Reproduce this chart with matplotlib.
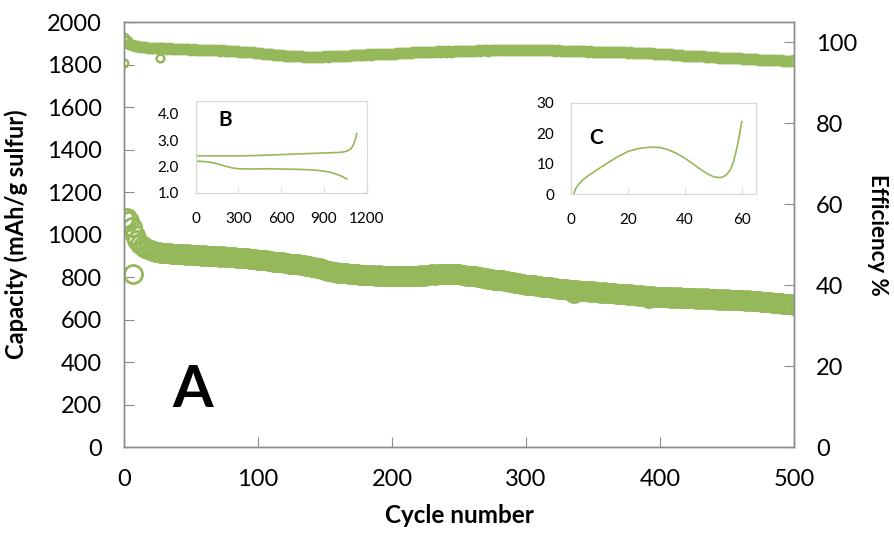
import matplotlib.pyplot as plt

plt.rcParams["font.family"] = ["Lato", "DejaVu Sans"]

GREEN = "#95b85a"
GREY = "#8c8c8c"

# main panel: cycles every 2 from 0 to 500
cycles = list(range(0, 501, 2))

capacity = [
    1080, 1078, 1062, 1035, 1000, 972, 955, 944, 936, 930,
    925, 922, 917, 917, 913, 914, 911, 912, 909, 910,
    908, 906, 909, 904, 907, 903, 905, 902, 905, 901,
    903, 900, 901, 901, 897, 900, 896, 897, 895, 894,
    893, 895, 890, 891, 890, 888, 888, 885, 886, 883,
    882, 882, 879, 879, 876, 876, 873, 873, 869, 870,
    867, 867, 863, 863, 859, 859, 855, 855, 851, 851,
    847, 846, 841, 841, 836, 835, 830, 829, 825, 824,
    821, 821, 817, 818, 814, 815, 812, 813, 810, 811,
    809, 810, 808, 809, 807, 808, 806, 807, 805, 807,
    804, 806, 805, 805, 804, 807, 803, 806, 805, 807,
    806, 809, 807, 811, 810, 813, 811, 814, 813, 815,
    814, 816, 813, 814, 812, 813, 810, 811, 807, 807,
    804, 804, 800, 800, 796, 796, 792, 792, 788, 788,
    784, 784, 780, 780, 776, 776, 772, 772, 768, 768,
    764, 764, 761, 761, 757, 758, 754, 754, 751, 751,
    748, 748, 745, 745, 742, 743, 739, 740, 724, 738,
    735, 736, 733, 734, 731, 732, 729, 730, 727, 728,
    725, 726, 723, 724, 721, 722, 719, 720, 717, 718,
    715, 716, 713, 714, 711, 712, 700, 710, 707, 708,
    705, 707, 704, 706, 703, 705, 702, 704, 701, 703,
    700, 702, 699, 701, 698, 700, 697, 699, 696, 698,
    695, 697, 694, 696, 693, 695, 692, 694, 691, 693,
    690, 691, 689, 690, 687, 688, 685, 686, 683, 684,
    681, 682, 679, 680, 677, 678, 675, 675, 672, 671,
    668,
]

efficiency = [
    101.0, 100.2, 99.6, 99.3, 99.1, 99.0, 98.9, 98.8, 98.8, 98.7,
    98.7, 98.6, 98.6, 98.5, 98.6, 98.5, 98.4, 98.5, 98.4, 98.4,
    98.4, 98.3, 98.4, 98.3, 98.3, 98.2, 98.3, 98.2, 98.2, 98.1,
    98.2, 98.1, 98.1, 98.0, 98.1, 98.0, 97.9, 98.0, 97.9, 97.9,
    97.8, 97.9, 97.8, 97.7, 97.7, 97.6, 97.6, 97.5, 97.5, 97.4,
    97.3, 97.3, 97.2, 97.1, 97.1, 97.0, 96.9, 96.9, 96.8, 96.8,
    96.7, 96.7, 96.6, 96.6, 96.5, 96.5, 96.5, 96.4, 96.4, 96.4,
    96.3, 96.4, 96.3, 96.4, 96.4, 96.5, 96.4, 96.5, 96.5, 96.6,
    96.6, 96.6, 96.7, 96.7, 96.7, 96.8, 96.8, 96.8, 96.9, 96.9,
    96.9, 97.0, 96.9, 97.0, 97.0, 97.1, 97.0, 97.1, 97.1, 97.2,
    97.2, 97.2, 97.3, 97.3, 97.3, 97.4, 97.4, 97.4, 97.5, 97.5,
    97.5, 97.6, 97.6, 97.6, 97.7, 97.7, 97.7, 97.8, 97.7, 97.8,
    97.7, 97.8, 97.7, 97.8, 97.8, 97.8, 97.9, 97.8, 97.9, 97.9,
    97.9, 97.9, 98.0, 97.9, 98.0, 98.0, 97.9, 98.0, 98.0, 98.0,
    98.0, 98.1, 98.0, 98.1, 98.0, 98.1, 98.1, 98.0, 98.1, 98.1,
    98.1, 98.1, 98.0, 98.1, 98.1, 98.0, 98.0, 98.1, 98.0, 98.0,
    98.0, 97.9, 98.0, 97.9, 97.9, 97.9, 97.9, 97.8, 97.9, 97.8,
    97.8, 97.8, 97.8, 97.7, 97.8, 97.7, 97.7, 97.7, 97.6, 97.7,
    97.6, 97.6, 97.6, 97.5, 97.6, 97.5, 97.5, 97.5, 97.4, 97.5,
    97.4, 97.4, 97.4, 97.3, 97.4, 97.3, 97.3, 97.3, 97.2, 97.2,
    97.2, 97.1, 97.1, 97.0, 97.0, 96.9, 96.9, 96.8, 96.8, 96.7,
    96.7, 96.7, 96.6, 96.6, 96.5, 96.5, 96.5, 96.4, 96.4, 96.3,
    96.3, 96.3, 96.2, 96.2, 96.2, 96.1, 96.1, 96.1, 96.0, 96.0,
    96.0, 95.9, 95.9, 95.9, 95.8, 95.8, 95.8, 95.7, 95.7, 95.7,
    95.6, 95.6, 95.6, 95.5, 95.5, 95.5, 95.4, 95.4, 95.4, 95.3,
    95.5,
]

# stray points
cap_out_cycles = [7]
cap_out_vals = [814]
eff_out_cycles = [0, 27]
eff_out_vals = [94.8, 96.2]

# inset B: voltage profile
b_chg_x = [0, 20, 100, 200, 300, 400, 500, 600, 700, 800, 900, 950, 1000,
           1040, 1070, 1090, 1105, 1115, 1125, 1130]
b_chg_y = [2.42, 2.40, 2.40, 2.40, 2.40, 2.41, 2.43, 2.45, 2.47, 2.49, 2.51,
           2.52, 2.53, 2.55, 2.60, 2.68, 2.80, 2.95, 3.12, 3.25]
b_dis_x = [0, 50, 100, 150, 200, 250, 300, 400, 500, 600, 700, 800, 850, 900,
           950, 1000, 1030, 1060]
b_dis_y = [2.20, 2.19, 2.16, 2.10, 2.02, 1.95, 1.91, 1.90, 1.91, 1.90, 1.89,
           1.87, 1.85, 1.82, 1.77, 1.68, 1.61, 1.52]

# inset C
c_x = [1, 1.5, 2.5, 4, 6, 8, 10, 13, 16, 20, 24, 28, 31, 34, 37, 40, 43, 46,
       48, 50, 52, 53, 54.5, 56, 57, 58, 59, 60]
c_y = [0, 1.5, 3, 4.5, 6, 7.2, 8.5, 10.3, 12, 14, 15, 15.4, 15.3, 14.6, 13.4,
       11.8, 9.8, 7.8, 6.6, 5.7, 5.4, 5.5, 6.2, 8, 10.3, 14, 18.5, 23.8]

fig = plt.figure(figsize=(8.95, 5.33), dpi=100)
ax = fig.add_axes([0.1385, 0.1613, 0.7486, 0.7974])
ax2 = ax.twinx()

ax.plot(cycles, capacity, "o", mfc="none", mec=GREEN, ms=13, mew=2)
ax.plot(cap_out_cycles, cap_out_vals, "o", mfc="none", mec=GREEN, ms=13, mew=2)
ax2.plot(cycles, efficiency, "o", mfc="none", mec=GREEN, ms=6.5, mew=2)
ax2.plot(eff_out_cycles, eff_out_vals, "o", mfc="none", mec=GREEN, ms=5.5, mew=1.8)

ax.set_xlim(0, 500)
ax.set_ylim(0, 2000)
ax2.set_ylim(0, 105)
ax.set_xticks(range(0, 501, 100))
ax.set_yticks(range(0, 2001, 200))
ax2.set_yticks(range(0, 101, 20))

for a in (ax, ax2):
    for s in a.spines.values():
        s.set_color(GREY)
        s.set_linewidth(1.0)
ax.tick_params(axis="both", direction="in", length=7, color=GREY, labelsize=17,
               pad=16)
ax2.tick_params(axis="y", direction="in", length=7, color=GREY, labelsize=17,
                pad=16)

ax.set_xlabel("Cycle number", fontsize=17.5, fontweight="bold", labelpad=10)
ax.set_ylabel("Capacity (mAh/g sulfur)", fontsize=17, fontweight="bold")
ax.yaxis.set_label_coords(-0.143, 0.5)
ax2.set_ylabel("Efficiency %", fontsize=16, fontweight="bold", rotation=270,
               va="center")
ax2.yaxis.set_label_coords(1.124, 0.5)

ax.text(0.103, 0.095, "A", transform=ax.transAxes, fontsize=42,
        fontweight="bold", ha="center")

# inset B
axb = fig.add_axes([0.2187, 0.6385, 0.191, 0.1726])
axb.plot(b_chg_x, b_chg_y, color=GREEN, lw=1.2)
axb.plot(b_dis_x, b_dis_y, color=GREEN, lw=1.2)
axb.set_xlim(0, 1200)
axb.set_ylim(1.0, 4.5)
axb.set_xticks([0, 300, 600, 900, 1200])
axb.set_yticks([1.0, 2.0, 3.0, 4.0])
axb.set_yticklabels(["1.0", "2.0", "3.0", "4.0"])
axb.text(0.13, 0.72, "B", transform=axb.transAxes, fontsize=15,
         fontweight="bold")

# inset C
axc = fig.add_axes([0.638, 0.636, 0.2067, 0.1713])
axc.plot(c_x, c_y, color=GREEN, lw=1.2)
axc.set_xlim(0, 65)
axc.set_ylim(0, 30)
axc.set_xticks([0, 20, 40, 60])
axc.set_yticks([0, 10, 20, 30])
axc.text(0.1, 0.55, "C", transform=axc.transAxes, fontsize=15,
         fontweight="bold")

for a in (axb, axc):
    for s in a.spines.values():
        s.set_color("#d9d9d9")
        s.set_linewidth(0.9)
    a.tick_params(axis="x", direction="in", length=4, color="#d9d9d9",
                  labelsize=11, pad=14)
    a.tick_params(axis="y", length=0, labelsize=11, pad=12)

fig.savefig("out.png", dpi=100)
